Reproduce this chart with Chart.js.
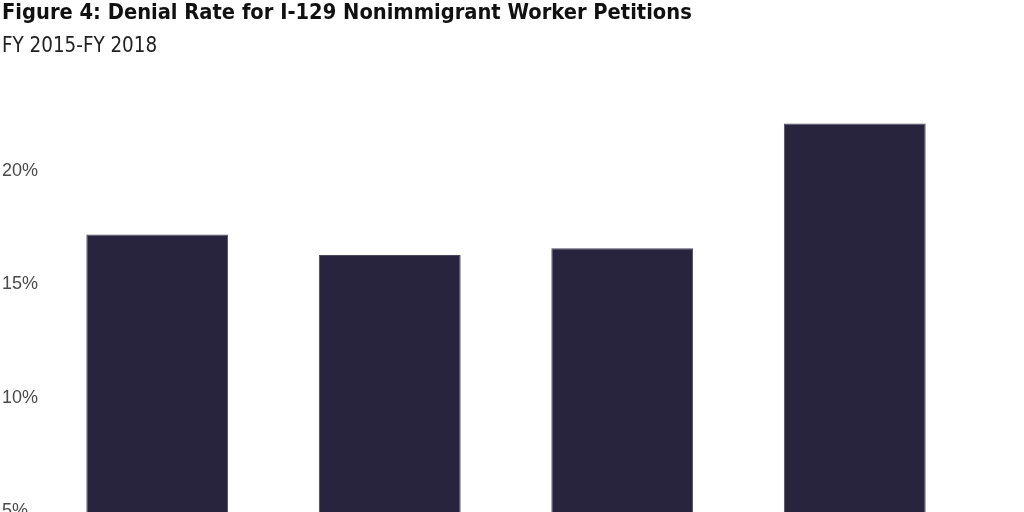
<!DOCTYPE html>
<html>
<head>
<meta charset="utf-8">
<script src="https://cdn.jsdelivr.net/npm/chart.js@4.4.1/dist/chart.umd.min.js"></script>
<style>
	html, body { margin: 0; padding: 0; background: #fff; overflow: hidden; }
	#wrap { width: 1024px; height: 512px; overflow: hidden; }
</style>
</head>
<body>
<div id="wrap">
	<canvas id="graph" width="1024" height="660"></canvas>
</div>
<script>
// 데이터
var years = ["FY 2015", "FY 2016", "FY 2017", "FY 2018"];
var denialRate = [17.2, 16.3, 16.6, 22.1];
var yTicks = [0, 5, 10, 15, 20];

var titleText = "Figure 4: Denial Rate for I-129 Nonimmigrant Worker Petitions";
var subtitleText = "FY 2015-FY 2018";

var ctx = document.getElementById('graph').getContext('2d');

var myChart = new Chart(ctx, {
	type: 'bar',
	data: {
		labels: years,
		datasets: [{
			label: 'Denial Rate',
			data: denialRate,
			backgroundColor: '#29243d',
			borderColor: '#4b4660',
			borderWidth: 1,
			borderSkipped: 'bottom',
			categoryPercentage: 1.0,
			barPercentage: 0.61
		}]
	},
	options: {
		animation: false,
		responsive: false,
		devicePixelRatio: 1,
		layout: { padding: { left: 2, right: 53, top: 0, bottom: 0 } },
		scales: {
			y: {
				min: 0,
				max: 24,
				border: { display: false },
				grid: { display: false },
				afterBuildTicks: function(axis) {
					axis.ticks = yTicks.map(function(v) { return { value: v }; });
				},
				afterFit: function(axis) { axis.width = 39; },
				ticks: {
					crossAlign: 'far',
					padding: 0,
					color: '#4a4a4a',
					font: { size: 18, family: "'Liberation Sans', Arial, sans-serif" },
					callback: function(value) { return value + '%'; }
				}
			},
			x: {
				border: { display: false },
				grid: { display: false },
				ticks: {
					color: '#4a4a4a',
					font: { size: 18, family: "'Liberation Sans', Arial, sans-serif" }
				}
			}
		},
		plugins: {
			legend: { display: false },
			tooltip: { enabled: false },
			title: {
				display: true,
				text: titleText,
				align: 'start',
				color: '#111',
				font: { size: 21.7, weight: 'bold', family: "'DejaVu Sans Condensed', sans-serif" },
				padding: { top: 0, bottom: 4 }
			},
			subtitle: {
				display: true,
				text: subtitleText,
				align: 'start',
				color: '#222',
				font: { size: 20.4, family: "'DejaVu Sans Condensed', sans-serif" },
				padding: { top: 4, bottom: 22 }
			}
		}
	}
});
</script>
</body>
</html>
